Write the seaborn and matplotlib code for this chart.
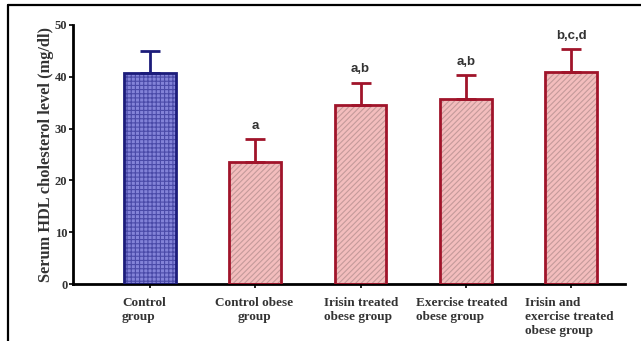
import matplotlib
matplotlib.use("Agg")
import matplotlib.pyplot as plt
import matplotlib.transforms as mtransforms
import seaborn as sns
import pandas as pd
from matplotlib.lines import Line2D

groups = ["Control\ngroup", "Control obese\ngroup", "Irisin treated\nobese group",
          "Exercise treated\nobese group", "Irisin and\nexercise treated\nobese group"]
means = [40.8, 23.5, 34.5, 35.8, 41.0]
sd = [4.1, 4.4, 4.4, 4.5, 4.3]
letters = ["", "a", "a,b", "a,b", "b,c,d"]
yticks = [0, 10, 20, 30, 40, 50]

fill_colors = ["#8383d8", "#f3bdbd", "#f3bdbd", "#f3bdbd", "#f3bdbd"]
hatch_colors = ["#4a4aa8", "#c49a9a", "#c49a9a", "#c49a9a", "#c49a9a"]
edge_colors = ["#1c1c7a", "#a0142a", "#a0142a", "#a0142a", "#a0142a"]
hatches = ["++++", "//////", "//////", "//////", "//////"]

sns.set_style("ticks")
plt.rcParams["hatch.linewidth"] = 0.8

df = pd.DataFrame({"group": groups, "mean": means})

fig = plt.figure(figsize=(6.41, 3.41), dpi=100)
ax = fig.add_axes([0.1139, 0.167, 0.975 - 0.1139, 0.9267 - 0.167])

sns.barplot(data=df, x="group", y="mean", ax=ax, width=0.49, errorbar=None,
            linewidth=0, saturation=1)

for i, p in enumerate(ax.patches):
    p.set_facecolor(fill_colors[i])
    p.set_hatch(hatches[i])
    p.set_edgecolor(hatch_colors[i])
    p.set_linewidth(0)
    # crisp outline on top of the hatched fill
    outline = plt.Rectangle(p.get_xy(), p.get_width(), p.get_height(),
                            fill=False, edgecolor=edge_colors[i], linewidth=2.0, zorder=3)
    ax.add_patch(outline)

for i, (m, s) in enumerate(zip(means, sd)):
    ax.errorbar(i, m, yerr=[[0], [s]], fmt="none", ecolor=edge_colors[i],
                elinewidth=2.0, capsize=7, capthick=2.0, zorder=2)
    if letters[i]:
        ax.text(i, m + s + 1.4, letters[i], ha="center", va="bottom",
                fontsize=9.5, fontweight="bold", family="Liberation Sans", color="#333333")

ax.set_xlim(-0.73, 4.51)
ax.set_ylim(0, 50)
ax.set_yticks(yticks)
ax.set_yticklabels([str(t) for t in yticks], fontsize=9, fontweight="bold",
                   family="Liberation Serif", color="#333333")
ax.set_xticks(range(len(groups)))
ax.set_xticklabels(groups, fontsize=9.5, fontweight="bold", family="Liberation Serif",
                   color="#333333", ha="left", va="top", linespacing=1.25)
ax.set_xlabel("")
ax.set_ylabel("Serum HDL cholesterol level (mg/dl)", fontsize=11.8, fontweight="bold",
              family="Liberation Serif", color="#333333", labelpad=1)

for side in ["top", "right"]:
    ax.spines[side].set_visible(False)
for side in ["left", "bottom"]:
    ax.spines[side].set_linewidth(2.0)
    ax.spines[side].set_color("black")
ax.tick_params(axis="both", length=3, width=1.2, color="black", pad=1)
ax.tick_params(axis="x", pad=6)

# shift category labels so each starts near its bar's left edge
offsets_px = [-28, -40, -37, -50, -46]
aligns = ["left", "center", "left", "left", "left"]
for lbl, off, al in zip(ax.get_xticklabels(), offsets_px, aligns):
    lbl.set_multialignment(al)
    lbl.set_transform(lbl.get_transform() +
                      mtransforms.ScaledTranslation(off / 100, 0, fig.dpi_scale_trans))

# page frame lines
fig.add_artist(Line2D([8 / 641, 1.0], [1 - 5 / 341, 1 - 5 / 341], color="black", linewidth=1.6))
fig.add_artist(Line2D([8 / 641, 8 / 641], [0, 1 - 5 / 341], color="black", linewidth=1.6))

fig.savefig("out.png", dpi=100)
